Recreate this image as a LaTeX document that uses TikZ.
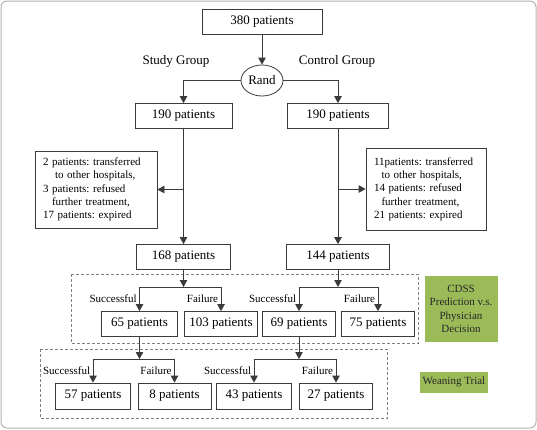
\documentclass[tikz,border=0pt]{standalone}
\usepackage{fontspec}
\setmainfont{Liberation Serif}
\usetikzlibrary{arrows.meta,shapes.geometric}
\definecolor{linegray}{HTML}{3A3A3A}
\definecolor{tagolive}{HTML}{9BBB59}
\frenchspacing
\tikzset{>={Triangle[length=7pt,width=7.5pt]}}
\tikzset{
	pbox/.style={draw=linegray, line width=0.8pt, minimum height=25pt, inner sep=2pt,
			font=\fontsize{13}{15}\selectfont},
	note/.style={draw=linegray, line width=0.8pt, align=left, inner xsep=8pt,
			font=\fontsize{11}{13.3}\selectfont},
	grp/.style={font=\fontsize{13}{15}\selectfont},
	lbl/.style={font=\fontsize{11}{13}\selectfont, inner sep=2.5pt},
	tag/.style={fill=tagolive, align=center, text=black!85, inner sep=1pt,
			font=\fontsize{11}{13.3}\selectfont},
	conn/.style={->, draw=linegray, line width=0.8pt},
	zone/.style={draw=gray, line width=0.7pt, dash pattern=on 3pt off 2pt}
}

\begin{document}
\begin{tikzpicture}[x=1pt,y=-1pt]
	% frame
	\useasboundingbox (0,0) rectangle (537,429);
	\draw[gray!60, line width=1pt, rounded corners=6pt] (1,1) rectangle (536,428);

	% randomisation
	\node[pbox, minimum width=120pt] (a380) at (262,22) {380 patients};
	\node[draw=linegray, line width=0.8pt, ellipse, inner sep=0pt, minimum width=42pt,
		minimum height=31pt, font=\fontsize{13}{15}\selectfont] (rand) at (262,80.5) {Rand};
	\node[grp] (sgrp) at (176,61) {Study Group};
	\node[grp] (cgrp) at (337,61) {Control Group};

	% two arms
	\node[pbox, minimum width=97pt] (s190) at (183.5,116) {190 patients};
	\node[pbox, minimum width=101pt] (c190) at (338,116) {190 patients};

	% drop outs
	\node[note, text width=106pt, minimum height=77pt] (sdrop) at (96,189.5) {%
		2 patients: transferred\\
		\hspace*{12pt}to other hospitals,\\
		3 patients: refused\\
		\hspace*{9pt}further treatment,\\
		17 patients: expired};
	\node[note, text width=104pt, minimum height=82pt] (cdrop) at (426,189) {%
		11patients: transferred\\
		\hspace*{7.5pt}to other hospitals,\\
		14 patients: refused\\
		\hspace*{7.5pt}further treatment,\\
		21 patients: expired};

	\node[pbox, minimum width=94pt] (s168) at (183.5,257) {168 patients};
	\node[pbox, minimum width=103pt] (c144) at (338,257) {144 patients};

	% CDSS prediction
	\coordinate (sj) at (183.5,287);
	\coordinate (cj) at (338,287);
	\node[pbox, minimum width=75.5pt] (s65) at (139.5,324) {65 patients};
	\node[pbox, minimum width=73.5pt] (s103) at (221,324) {103 patients};
	\node[pbox, minimum width=73.5pt] (c69) at (299,324) {69 patients};
	\node[pbox, minimum width=72.5pt] (c75) at (378,324) {75 patients};

	% weaning trial
	\coordinate (wj1) at (139.5,359);
	\coordinate (wj2) at (299,359);
	\node[pbox, minimum width=75pt, minimum height=26pt] (s57) at (93,396) {57 patients};
	\node[pbox, minimum width=73pt, minimum height=26pt] (s8) at (174.5,396) {8 patients};
	\node[pbox, minimum width=75.5pt, minimum height=26pt] (c43) at (254,396) {43 patients};
	\node[pbox, minimum width=73.5pt, minimum height=26pt] (c27) at (336,396) {27 patients};

	% stage tags
	\draw[zone] (71,274) rectangle (418.5,343);
	\draw[zone] (40.5,349) rectangle (387,418.5);
	\node[tag, minimum width=73pt, minimum height=66pt] (cdss) at (461,309)
		{CDSS\\Prediction v.s.\\Physician\\Decision};
	\node[tag, minimum width=68pt, minimum height=21pt] (wean) at (454,382) {Weaning Trial};

	% connectors
	\draw[conn] (a380) -- (rand);
	\draw[conn] (rand.west) -| (s190.north);
	\draw[conn] (rand.east) -| (c190.north);
	\draw[conn] (s190) -- (s168);
	\draw[conn] (c190) -- (c144);
	\draw[conn] (s190.south |- sdrop.east) -- (sdrop.east);
	\draw[conn] (c190.south |- cdrop.west) -- (cdrop.west);

	\draw[conn] (s168) -- (sj);
	\draw[conn] (c144) -- (cj);
	\draw[conn] (sj) -| node[lbl, pos=.75, left] {Successful} (s65.north);
	\draw[conn] (sj) -| node[lbl, pos=.75, left] {Failure} (s103.north);
	\draw[conn] (cj) -| node[lbl, pos=.75, left] {Successful} (c69.north);
	\draw[conn] (cj) -| node[lbl, pos=.75, left] {Failure} (c75.north);

	\draw[conn] (s65) -- (wj1);
	\draw[conn] (c69) -- (wj2);
	\draw[conn] (wj1) -| node[lbl, pos=.75, left] {Successful} (s57.north);
	\draw[conn] (wj1) -| node[lbl, pos=.75, left] {Failure} (s8.north);
	\draw[conn] (wj2) -| node[lbl, pos=.75, left] {Successful} (c43.north);
	\draw[conn] (wj2) -| node[lbl, pos=.75, left] {Failure} (c27.north);
\end{tikzpicture}
\end{document}
